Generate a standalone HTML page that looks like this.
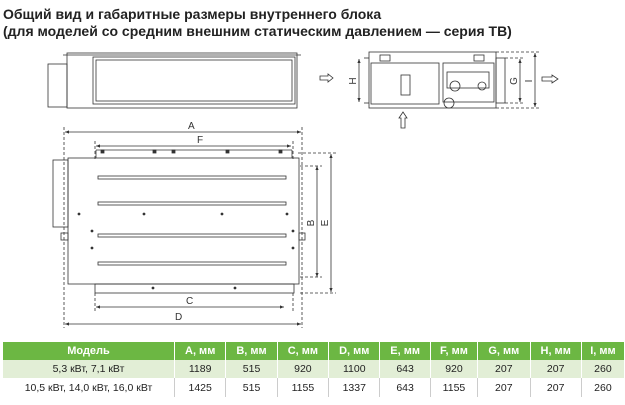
<!DOCTYPE html>
<html><head><meta charset="utf-8"><style>
body{margin:0;width:625px;height:405px;background:#fff;font-family:"Liberation Sans",sans-serif;overflow:hidden;position:relative}
.t{position:absolute;left:3px;font-weight:bold;font-size:14px;color:#222;white-space:nowrap}
table{position:absolute;left:3px;top:342px;width:621px;border-collapse:collapse;font-size:10.5px;color:#222}
td,th{text-align:center;padding:0;border-left:1px solid #fff}
th{background:#6cb743;color:#fff;height:18px;font-weight:bold;font-size:11px}
tr.a td{background:#e2eed6;height:18px}
tr.b td{height:19px;border-left:1px solid #ccc}
tr.b td:first-child,tr.a td:first-child,th:first-child{border-left:none}
</style></head><body>
<div class="t" style="top:6px">Общий вид и габаритные размеры внутреннего блока</div>
<div class="t" style="top:23px">(для моделей со средним внешним статическим давлением — серия ТВ)</div>
<svg width="625" height="340" style="position:absolute;left:0;top:0" fill="none" stroke="#333" stroke-width="0.8" font-family="Liberation Sans" font-size="10">
<defs><marker id="ar" viewBox="0 0 10 10" refX="10" refY="5" markerWidth="5" markerHeight="5" orient="auto-start-reverse"><path d="M0,1L10,5L0,9z" fill="#333" stroke="none"/></marker></defs>
<rect x="48" y="64" width="19" height="43"/>
<rect x="67" y="53" width="230" height="55"/>
<rect x="93" y="57" width="202" height="47"/>
<rect x="96" y="60" width="196" height="41"/>
<line x1="63" y1="55" x2="301" y2="55"/>
<path d="M320,76h8v-2l5,4-5,4v-2h-8z"/>
<rect x="53" y="160" width="15" height="67"/>
<rect x="61" y="233" width="7" height="7"/>
<rect x="299" y="233" width="6" height="7"/>
<rect x="68" y="158" width="231" height="126"/>
<rect x="95" y="284" width="199" height="9"/>
<line x1="96" y1="150" x2="292" y2="150"/><line x1="96" y1="150" x2="96" y2="158"/><line x1="292" y1="150" x2="292" y2="158"/>
<g fill="#333"><rect x="101" y="150" width="3" height="3"/><rect x="153" y="150" width="3" height="3"/><rect x="172" y="150" width="3" height="3"/><rect x="226" y="150" width="3" height="3"/><rect x="279" y="150" width="3" height="3"/>
<circle cx="79" cy="214" r="1"/><circle cx="144" cy="214" r="1"/><circle cx="222" cy="214" r="1"/><circle cx="287" cy="214" r="1"/><circle cx="92" cy="231" r="1"/><circle cx="92" cy="248" r="1"/><circle cx="293" cy="231" r="1"/><circle cx="293" cy="248" r="1"/><circle cx="153" cy="288" r="1"/><circle cx="235" cy="288" r="1"/></g>
<rect x="98" y="176" width="188" height="3"/><rect x="98" y="202" width="188" height="3"/><rect x="98" y="234" width="188" height="3"/><rect x="98" y="262" width="188" height="3"/>
<g stroke-dasharray="3,2"><line x1="64" y1="127" x2="64" y2="328"/><line x1="302" y1="127" x2="302" y2="328"/><line x1="95" y1="141" x2="95" y2="160"/><line x1="293" y1="141" x2="293" y2="160"/><line x1="95" y1="293" x2="95" y2="311"/><line x1="293" y1="293" x2="293" y2="311"/><line x1="298" y1="153" x2="336" y2="153"/><line x1="300" y1="293" x2="336" y2="293"/><line x1="300" y1="166" x2="322" y2="166"/><line x1="300" y1="277" x2="322" y2="277"/></g>
<line x1="65" y1="132" x2="301" y2="132" marker-start="url(#ar)" marker-end="url(#ar)"/>
<line x1="96" y1="146" x2="291" y2="146" marker-start="url(#ar)" marker-end="url(#ar)"/>
<line x1="96" y1="307" x2="284" y2="307" marker-start="url(#ar)" marker-end="url(#ar)"/>
<line x1="65" y1="324" x2="301" y2="324" marker-start="url(#ar)" marker-end="url(#ar)"/>
<line x1="317" y1="166" x2="317" y2="277" marker-start="url(#ar)" marker-end="url(#ar)"/>
<line x1="331" y1="154" x2="331" y2="292" marker-start="url(#ar)" marker-end="url(#ar)"/>
<g fill="#333" stroke="none"><text x="188" y="129">A</text><text x="197" y="143">F</text><text x="186" y="304">C</text><text x="175" y="320">D</text>
<text transform="translate(314,223) rotate(-90)" text-anchor="middle">B</text><text transform="translate(328,223) rotate(-90)" text-anchor="middle">E</text>
<text transform="translate(356,81) rotate(-90)" text-anchor="middle">H</text><text transform="translate(517,81) rotate(-90)" text-anchor="middle">G</text><text transform="translate(532,81) rotate(-90)" text-anchor="middle">I</text></g>
<rect x="369" y="52" width="127" height="56"/>
<rect x="496" y="58" width="9" height="45"/>
<rect x="371" y="63" width="68" height="41"/>
<rect x="401" y="75" width="9" height="20"/>
<rect x="443" y="63" width="51" height="39"/>
<rect x="447" y="72" width="42" height="16"/>
<circle cx="455" cy="86" r="5"/><circle cx="482" cy="86" r="4"/><circle cx="449" cy="103" r="5"/>
<rect x="380" y="55" width="10" height="6"/><rect x="474" y="55" width="10" height="6"/>
<g stroke-dasharray="3,2"><line x1="496" y1="52" x2="540" y2="52"/><line x1="496" y1="108" x2="540" y2="108"/><line x1="505" y1="58" x2="525" y2="58"/><line x1="505" y1="103" x2="525" y2="103"/></g>
<line x1="359" y1="59" x2="359" y2="102" marker-start="url(#ar)" marker-end="url(#ar)"/><line x1="364" y1="58" x2="369" y2="58"/><line x1="364" y1="103" x2="369" y2="103"/>
<line x1="520" y1="59" x2="520" y2="102" marker-start="url(#ar)" marker-end="url(#ar)"/>
<line x1="535" y1="53" x2="535" y2="107" marker-start="url(#ar)" marker-end="url(#ar)"/>
<path d="M542,77h10v-2l6,4-6,4v-2h-10z"/>
<path d="M401,128v-10h-2l4,-6 4,6h-2v10z"/>
</svg>
<table>
<tr><th style="width:171px">Модель</th><th>A, мм</th><th>B, мм</th><th>C, мм</th><th>D, мм</th><th>E, мм</th><th>F, мм</th><th>G, мм</th><th>H, мм</th><th>I, мм</th></tr>
<tr class="a"><td>5,3 кВт, 7,1 кВт</td><td>1189</td><td>515</td><td>920</td><td>1100</td><td>643</td><td>920</td><td>207</td><td>207</td><td>260</td></tr>
<tr class="b"><td>10,5 кВт, 14,0 кВт, 16,0 кВт</td><td>1425</td><td>515</td><td>1155</td><td>1337</td><td>643</td><td>1155</td><td>207</td><td>207</td><td>260</td></tr>
</table>
</body></html>
